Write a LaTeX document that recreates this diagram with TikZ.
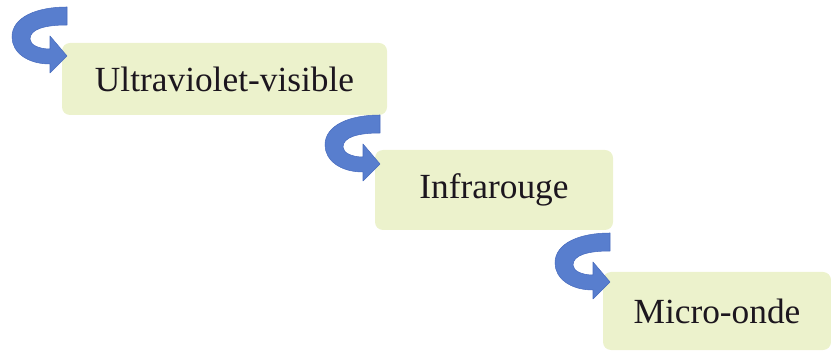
\documentclass[tikz,border=0pt]{standalone}
\usepackage{fontspec}
\setmainfont{Liberation Serif}
\definecolor{boxfill}{RGB}{236,242,204}
\definecolor{arrowblue}{RGB}{88,126,206}
\definecolor{arrowedge}{RGB}{72,108,190}
\definecolor{labeltext}{RGB}{28,22,30}
\begin{document}
\begin{tikzpicture}[x=0.75pt,y=-0.75pt,
  stage/.style={fill=boxfill, rounded corners=6pt, inner sep=0pt,
    font=\fontsize{26.5}{30}\selectfont, text=labeltext},
  turnarrow/.pic={
    \fill[arrowblue, draw=arrowedge, line width=0.4pt, line join=round]
      (0,0) -- (0,18)
      .. controls (-22,18) and (-37,22) .. (-37,32)
      .. controls (-37,38) and (-28,42) .. (-17,42)
      -- (-17,29) -- (0,49) -- (-17,66) -- (-17,57)
      .. controls (-40,57) and (-55,45) .. (-55,30)
      .. controls (-55,10) and (-30,0) .. (0,0) -- cycle;
  }]
\useasboundingbox (0,0) rectangle (831,352);

% the three stages
\node[stage, minimum width=325*0.75pt, minimum height=72*0.75pt] (uv) at (224.5,79) {Ultraviolet-visible};
\node[stage, minimum width=238*0.75pt, minimum height=80*0.75pt] (ir) at (494,190) {Infrarouge};
\node[stage, minimum width=228*0.75pt, minimum height=78*0.75pt] (mw) at (717,311) {Micro-onde};

% curved arrows leading into each stage
\pic at (67,7) {turnarrow};
\pic at (380,115) {turnarrow};
\pic at (610,233) {turnarrow};
\end{tikzpicture}
\end{document}
